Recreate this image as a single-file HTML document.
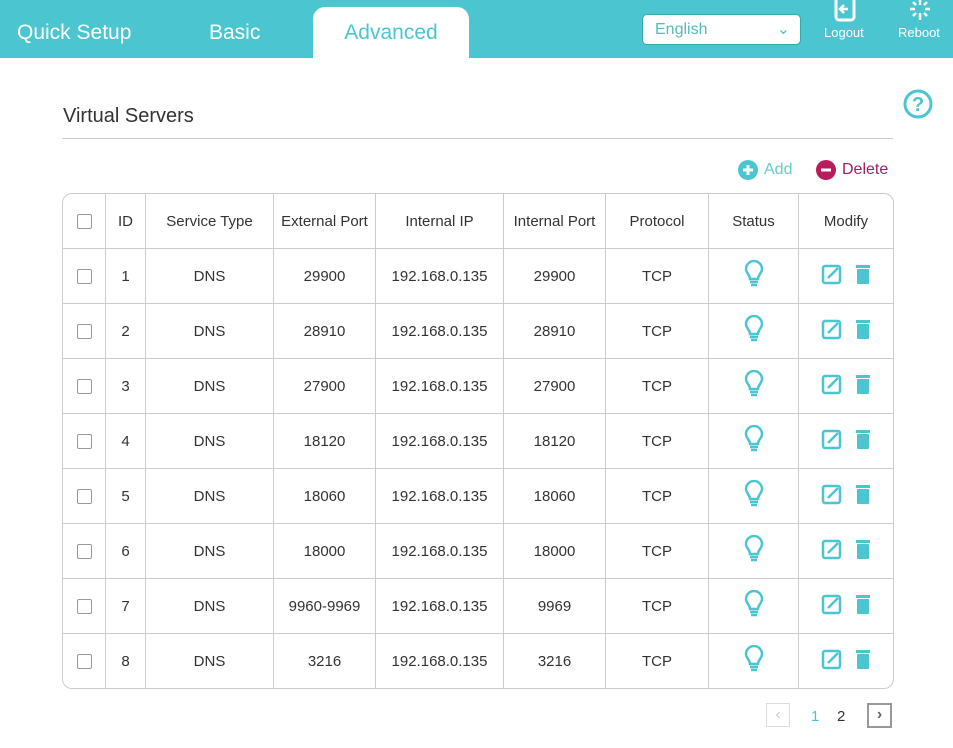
<!DOCTYPE html><html><head><style>
body{margin:0;width:953px;height:748px;background:#fff;font-family:"Liberation Sans",sans-serif;position:relative;overflow:hidden;color:#333}
.hdr{position:absolute;left:0;top:0;width:953px;height:58px;background:#4bc6d1}
.tab{position:absolute;top:21px;color:#fff;font-size:21px}
.adv{position:absolute;left:313px;top:7px;width:156px;height:51px;background:#fff;border-radius:12px 12px 0 0;color:#4bc6d1;font-size:21px;text-align:center;line-height:52px}
.sel{position:absolute;left:642px;top:14px;width:159px;height:31px;background:#fff;border-radius:5px;border:1px solid #3aa;box-sizing:border-box;color:#5bb;font-size:16px;line-height:30px;padding-left:12px}
.ic{position:absolute;color:#fff;font-size:13px}
table{position:absolute;left:62px;top:193px;border-collapse:separate;border-spacing:0;border:1px solid #ccc;border-radius:10px;font-size:15px;color:#333}
td{border-right:1px solid #ccc;border-bottom:1px solid #ccc;text-align:center;height:54px;padding:0}
tr:last-child td{border-bottom:none}
td:last-child{border-right:none}
.cb{display:inline-block;width:13px;height:13px;border:1px solid #999;border-radius:2px;vertical-align:middle}
</style></head><body>
<div class="hdr"></div>
<div class="tab" style="left:17px">Quick Setup</div>
<div class="tab" style="left:209px">Basic</div>
<div class="adv">Advanced</div>
<div class="sel">English<span style="position:absolute;right:10px;top:0;color:#4bc6d1">&#8964;</span></div>
<svg style="position:absolute;left:834px;top:0" width="24" height="22"><rect x="2" y="-4" width="18" height="24" rx="3" fill="none" stroke="#fff" stroke-width="3"/><path d="M14 9H7M10 5L6 9L10 13" stroke="#fff" stroke-width="2.5" fill="none"/></svg>
<div class="ic" style="left:824px;top:25px">Logout</div>
<svg style="position:absolute;left:905px;top:0" width="30" height="22"><g stroke="#fff" stroke-width="2.5"><path d="M15 0V5M15 13V20M5 9H10M20 9H25M8 2L11 5M22 2L19 5M8 16L11 13M22 16L19 13"/></g></svg>
<div class="ic" style="left:898px;top:25px">Reboot</div>
<svg style="position:absolute;left:902px;top:88px" width="32" height="32"><circle cx="16" cy="16" r="13" fill="none" stroke="#4bc6d1" stroke-width="3"/><text x="16" y="23" text-anchor="middle" font-size="20" font-weight="bold" fill="#4bc6d1" font-family="Liberation Sans">?</text></svg>
<div style="position:absolute;left:63px;top:105px;font-size:20px;color:#333">Virtual Servers</div>
<div style="position:absolute;left:62px;top:138px;width:831px;height:1px;background:#ccc"></div>
<svg style="position:absolute;left:738px;top:160px" width="20" height="20"><circle cx="10" cy="10" r="10" fill="#4bc6d1"/><path d="M10 5V15M5 10H15" stroke="#fff" stroke-width="3"/></svg>
<div style="position:absolute;left:764px;top:161px;color:#6cc;font-size:16px">Add</div>
<svg style="position:absolute;left:816px;top:160px" width="20" height="20"><circle cx="10" cy="10" r="10" fill="#b81c5c"/><path d="M5 10H15" stroke="#fff" stroke-width="3"/></svg>
<div style="position:absolute;left:842px;top:161px;color:#a02060;font-size:16px">Delete</div>
<table><tbody id="b"></tbody></table>
<script>
var d=[[1,29900,29900],[2,28910,28910],[3,27900,27900],[4,18120,18120],[5,18060,18060],[6,18000,18000],[7,'9960-9969',9969],[8,3216,3216]];
var bulb='<svg width="20" height="28" viewBox="0 0 20 28"><path d="M6 19C6 15 2 13 2 9A8 8 0 0 1 18 9C18 13 14 15 14 19Z" fill="none" stroke="#4bc6d1" stroke-width="2.5"/><path d="M6 22H14M7 25H13" stroke="#4bc6d1" stroke-width="2.5"/></svg>';
var mod='<svg width="60" height="24"><rect x="7" y="4" width="17" height="17" rx="2" fill="none" stroke="#4bc6d1" stroke-width="2.5"/><path d="M12 16L22 6" stroke="#4bc6d1" stroke-width="2.5"/><rect x="40" y="3" width="14" height="3" fill="#4bc6d1"/><rect x="41" y="7" width="12" height="15" rx="1" fill="#4bc6d1"/></svg>';
var h='<tr><td style="width:42px"><span class="cb"></span></td><td style="width:39px">ID</td><td style="width:127px">Service Type</td><td style="width:101px">External Port</td><td style="width:127px">Internal IP</td><td style="width:101px">Internal Port</td><td style="width:102px">Protocol</td><td style="width:89px">Status</td><td style="width:94px">Modify</td></tr>';
d.forEach(function(r){h+='<tr><td><span class="cb"></span></td><td>'+r[0]+'</td><td>DNS</td><td>'+r[1]+'</td><td>192.168.0.135</td><td>'+r[2]+'</td><td>TCP</td><td>'+bulb+'</td><td>'+mod+'</td></tr>'});
document.getElementById('b').innerHTML=h;
</script>
<div style="position:absolute;left:766px;top:703px;width:24px;height:24px;border:1px solid #ddd;box-sizing:border-box;color:#ccc;text-align:center;line-height:22px">&#8249;</div>
<div style="position:absolute;left:811px;top:708px;color:#4bc6d1;font-size:15px">1</div>
<div style="position:absolute;left:837px;top:708px;font-size:15px">2</div>
<div style="position:absolute;left:867px;top:703px;width:25px;height:25px;border:2px solid #999;box-sizing:border-box;color:#666;text-align:center;line-height:20px;font-weight:bold">&#8250;</div>
</body></html>
